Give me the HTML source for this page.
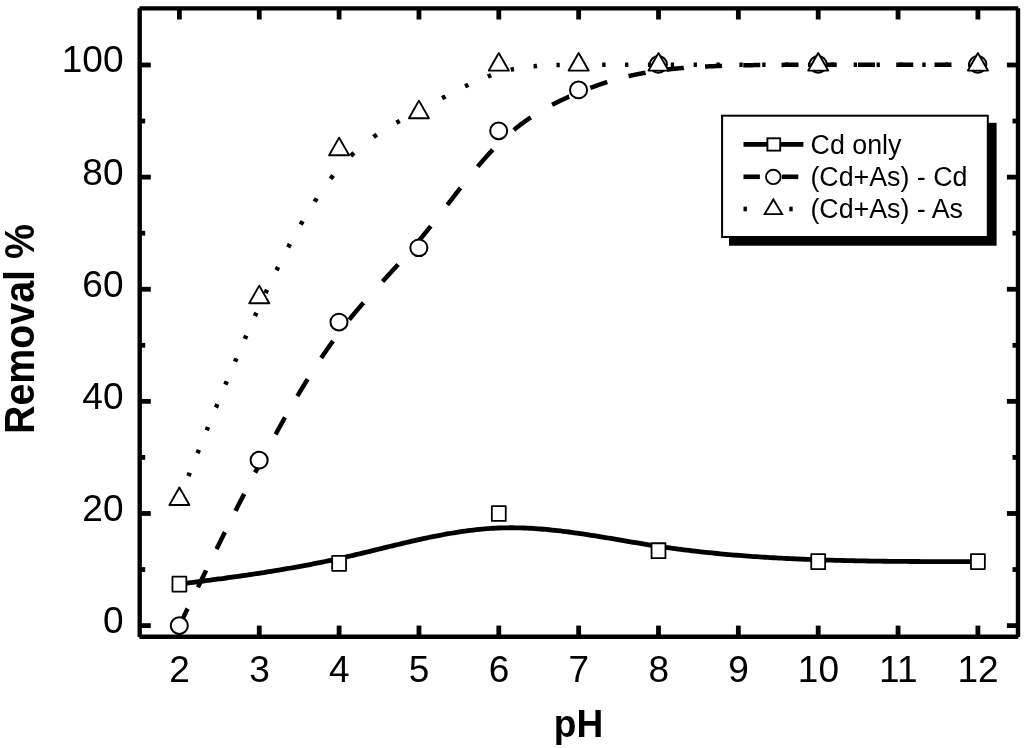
<!DOCTYPE html>
<html><head><meta charset="utf-8"><title>Removal % vs pH</title>
<style>
html,body{margin:0;padding:0;background:#fff;}
body{width:1024px;height:748px;overflow:hidden;}
svg{display:block;}
text{font-family:"Liberation Sans",Arial,sans-serif;fill:#000;}
</style></head><body>
<svg width="1024" height="748" viewBox="0 0 1024 748">
<rect width="1024" height="748" fill="#fff"/>
<!-- curves -->
<g fill="none" stroke="#000" stroke-linejoin="round">
<path d="M179.40 584.12 L179.40 584.12 L179.40 584.12 L179.40 584.12 L179.41 584.11 L179.42 584.11 L179.43 584.11 L179.45 584.11 L179.47 584.11 L179.50 584.10 L179.54 584.10 L179.59 584.09 L179.65 584.08 L179.72 584.07 L179.79 584.06 L179.89 584.05 L179.99 584.04 L180.11 584.02 L180.24 584.01 L180.39 583.99 L180.55 583.97 L180.73 583.94 L180.93 583.92 L181.15 583.89 L181.39 583.86 L181.65 583.82 L181.93 583.79 L182.23 583.75 L182.56 583.71 L182.91 583.66 L183.28 583.61 L183.68 583.56 L184.11 583.50 L184.57 583.44 L185.05 583.38 L185.56 583.32 L186.11 583.24 L186.68 583.17 L187.29 583.09 L187.93 583.01 L188.60 582.92 L189.31 582.83 L190.05 582.73 L190.83 582.63 L191.64 582.53 L192.50 582.41 L193.39 582.30 L194.32 582.18 L195.29 582.05 L196.31 581.92 L197.37 581.78 L198.47 581.64 L199.61 581.49 L200.80 581.34 L202.03 581.18 L203.31 581.01 L204.64 580.84 L206.02 580.66 L207.44 580.47 L208.92 580.28 L210.44 580.08 L212.00 579.88 L213.62 579.67 L215.28 579.45 L216.98 579.23 L218.72 578.99 L220.51 578.76 L222.34 578.51 L224.21 578.26 L226.12 578.00 L228.07 577.74 L230.05 577.46 L232.07 577.19 L234.13 576.90 L236.23 576.61 L238.36 576.31 L240.52 576.00 L242.72 575.68 L244.94 575.36 L247.20 575.03 L249.49 574.69 L251.81 574.35 L254.15 574.00 L256.53 573.64 L258.93 573.27 L261.35 572.90 L263.81 572.51 L266.28 572.12 L268.78 571.73 L271.30 571.32 L273.84 570.91 L276.41 570.48 L278.99 570.06 L281.59 569.62 L284.21 569.17 L286.85 568.72 L289.51 568.26 L292.18 567.79 L294.86 567.31 L297.56 566.83 L300.27 566.33 L302.99 565.83 L305.73 565.32 L308.47 564.80 L311.23 564.27 L313.99 563.73 L316.76 563.19 L319.54 562.63 L322.32 562.07 L325.11 561.50 L327.90 560.92 L330.70 560.33 L333.50 559.74 L336.30 559.13 L339.10 558.51 L341.90 557.89 L344.70 557.26 L347.51 556.62 L350.31 555.97 L353.11 555.32 L355.91 554.66 L358.71 553.99 L361.51 553.32 L364.32 552.65 L367.12 551.97 L369.92 551.30 L372.72 550.61 L375.52 549.93 L378.32 549.25 L381.13 548.56 L383.93 547.88 L386.73 547.20 L389.53 546.52 L392.33 545.84 L395.14 545.17 L397.94 544.49 L400.74 543.83 L403.54 543.16 L406.34 542.51 L409.14 541.86 L411.95 541.21 L414.75 540.57 L417.55 539.95 L420.35 539.33 L423.15 538.71 L425.95 538.11 L428.76 537.52 L431.56 536.94 L434.36 536.37 L437.16 535.82 L439.96 535.28 L442.76 534.75 L445.57 534.23 L448.37 533.73 L451.17 533.25 L453.97 532.78 L456.77 532.33 L459.58 531.90 L462.38 531.48 L465.18 531.08 L467.98 530.70 L470.78 530.35 L473.58 530.01 L476.39 529.69 L479.19 529.40 L481.99 529.13 L484.79 528.88 L487.59 528.65 L490.39 528.45 L493.20 528.27 L496.00 528.12 L498.80 528.00 L501.60 527.90 L504.40 527.83 L507.21 527.78 L510.01 527.76 L512.81 527.77 L515.61 527.79 L518.41 527.84 L521.21 527.92 L524.02 528.01 L526.82 528.13 L529.62 528.26 L532.42 528.42 L535.22 528.60 L538.02 528.79 L540.83 529.00 L543.63 529.24 L546.43 529.48 L549.23 529.75 L552.03 530.03 L554.84 530.32 L557.64 530.63 L560.44 530.96 L563.24 531.29 L566.04 531.64 L568.84 532.00 L571.65 532.38 L574.45 532.76 L577.25 533.16 L580.05 533.56 L582.85 533.97 L585.65 534.40 L588.46 534.83 L591.26 535.26 L594.06 535.71 L596.86 536.15 L599.66 536.61 L602.46 537.07 L605.27 537.53 L608.07 538.00 L610.87 538.47 L613.67 538.94 L616.47 539.42 L619.28 539.89 L622.08 540.37 L624.88 540.84 L627.68 541.32 L630.48 541.79 L633.28 542.26 L636.09 542.73 L638.89 543.20 L641.69 543.66 L644.49 544.11 L647.29 544.57 L650.09 545.01 L652.90 545.45 L655.70 545.89 L658.50 546.31 L661.30 546.73 L664.10 547.14 L666.91 547.54 L669.71 547.94 L672.51 548.32 L675.31 548.70 L678.11 549.07 L680.91 549.44 L683.72 549.79 L686.52 550.14 L689.32 550.48 L692.12 550.82 L694.92 551.14 L697.72 551.46 L700.53 551.78 L703.33 552.08 L706.13 552.38 L708.93 552.67 L711.73 552.96 L714.54 553.24 L717.34 553.51 L720.14 553.78 L722.94 554.04 L725.74 554.30 L728.54 554.54 L731.35 554.79 L734.15 555.02 L736.95 555.25 L739.75 555.48 L742.55 555.70 L745.35 555.91 L748.16 556.12 L750.96 556.32 L753.76 556.52 L756.56 556.71 L759.36 556.90 L762.16 557.08 L764.97 557.25 L767.77 557.43 L770.57 557.59 L773.37 557.75 L776.17 557.91 L778.98 558.07 L781.78 558.21 L784.58 558.36 L787.38 558.50 L790.18 558.63 L792.98 558.76 L795.79 558.89 L798.59 559.01 L801.39 559.13 L804.19 559.25 L806.99 559.36 L809.79 559.47 L812.60 559.57 L815.40 559.67 L818.20 559.77 L821.00 559.86 L823.80 559.95 L826.60 560.04 L829.40 560.12 L832.19 560.20 L834.98 560.28 L837.76 560.36 L840.54 560.43 L843.31 560.50 L846.07 560.56 L848.83 560.63 L851.57 560.69 L854.31 560.75 L857.03 560.80 L859.74 560.85 L862.44 560.90 L865.12 560.95 L867.79 561.00 L870.45 561.04 L873.09 561.08 L875.71 561.12 L878.31 561.16 L880.89 561.19 L883.46 561.23 L886.00 561.26 L888.52 561.29 L891.02 561.32 L893.49 561.34 L895.95 561.36 L898.37 561.39 L900.77 561.41 L903.15 561.43 L905.49 561.44 L907.81 561.46 L910.10 561.48 L912.36 561.49 L914.58 561.50 L916.78 561.51 L918.94 561.52 L921.07 561.53 L923.17 561.54 L925.23 561.55 L927.25 561.55 L929.23 561.56 L931.18 561.56 L933.09 561.57 L934.96 561.57 L936.79 561.57 L938.58 561.57 L940.32 561.58 L942.02 561.58 L943.68 561.58 L945.30 561.58 L946.86 561.58 L948.38 561.58 L949.86 561.58 L951.28 561.58 L952.66 561.58 L953.99 561.58 L955.27 561.58 L956.50 561.58 L957.69 561.58 L958.83 561.58 L959.93 561.58 L960.99 561.58 L962.01 561.58 L962.98 561.58 L963.91 561.58 L964.80 561.58 L965.66 561.58 L966.47 561.58 L967.25 561.58 L967.99 561.58 L968.70 561.58 L969.37 561.58 L970.01 561.58 L970.62 561.58 L971.19 561.58 L971.74 561.58 L972.25 561.58 L972.73 561.58 L973.19 561.58 L973.62 561.58 L974.02 561.58 L974.39 561.58 L974.74 561.58 L975.07 561.58 L975.37 561.58 L975.65 561.58 L975.91 561.58 L976.15 561.58 L976.37 561.58 L976.57 561.58 L976.75 561.58 L976.91 561.58 L977.06 561.58 L977.19 561.58 L977.31 561.58 L977.41 561.58 L977.51 561.58 L977.58 561.58 L977.65 561.58 L977.71 561.58 L977.76 561.58 L977.80 561.58 L977.83 561.58 L977.85 561.58 L977.87 561.58 L977.88 561.58 L977.89 561.58 L977.90 561.58 L977.90 561.58 L977.90 561.58 L977.90 561.58" stroke-width="4.8"/>
<path d="M179.40 625.60 L179.40 625.60 L179.40 625.60 L179.40 625.60 L179.40 625.60 L179.40 625.60 L179.40 625.60 L179.40 625.60 L179.40 625.60 L179.40 625.60 L179.40 625.60 L179.40 625.60 L179.40 625.60 L179.40 625.60 L179.40 625.60 L179.40 625.60 L179.40 625.60 L179.40 625.59 L179.40 625.59 L179.40 625.59 L179.40 625.59 L179.40 625.59 L179.41 625.59 L179.41 625.59 L179.41 625.59 L179.41 625.58 L179.41 625.58 L179.41 625.58 L179.41 625.58 L179.41 625.58 L179.41 625.57 L179.41 625.57 L179.42 625.57 L179.42 625.56 L179.42 625.56 L179.42 625.56 L179.42 625.55 L179.42 625.55 L179.43 625.54 L179.43 625.54 L179.43 625.53 L179.43 625.53 L179.44 625.52 L179.44 625.52 L179.44 625.51 L179.44 625.51 L179.45 625.50 L179.45 625.49 L179.45 625.49 L179.46 625.48 L179.46 625.47 L179.47 625.46 L179.47 625.46 L179.47 625.45 L179.48 625.44 L179.48 625.43 L179.49 625.42 L179.49 625.41 L179.50 625.40 L179.50 625.39 L179.51 625.38 L179.51 625.37 L179.52 625.36 L179.52 625.34 L179.53 625.33 L179.54 625.32 L179.54 625.31 L179.55 625.29 L179.55 625.28 L179.56 625.26 L179.57 625.25 L179.58 625.23 L179.58 625.22 L179.59 625.20 L179.60 625.19 L179.61 625.17 L179.62 625.15 L179.63 625.13 L179.63 625.12 L179.64 625.10 L179.65 625.08 L179.66 625.06 L179.67 625.04 L179.68 625.02 L179.69 624.99 L179.70 624.97 L179.71 624.95 L179.72 624.93 L179.74 624.90 L179.75 624.88 L179.76 624.86 L179.77 624.83 L179.78 624.81 L179.80 624.78 L179.81 624.75 L179.82 624.72 L179.84 624.70 L179.85 624.67 L179.86 624.64 L179.88 624.61 L179.89 624.58 L179.91 624.55 L179.92 624.52 L179.94 624.48 L179.95 624.45 L179.97 624.42 L179.99 624.38 L180.00 624.35 L180.02 624.31 L180.04 624.28 L180.06 624.24 L180.07 624.20 L180.09 624.17 L180.11 624.13 L180.13 624.09 L180.15 624.05 L180.17 624.01 L180.19 623.97 L180.21 623.92 L180.23 623.88 L180.25 623.84 L180.27 623.79 L180.30 623.75 L180.32 623.70 L180.34 623.65 L180.36 623.61 L180.39 623.56 L180.41 623.51 L180.43 623.46 L180.46 623.41 L180.48 623.36 L180.51 623.31 L180.53 623.25 L180.56 623.20 L180.59 623.14 L180.61 623.09 L180.64 623.03 L180.67 622.98 L180.70 622.92 L180.72 622.86 L180.75 622.80 L180.78 622.74 L180.81 622.68 L180.84 622.61 L180.87 622.55 L180.90 622.49 L180.93 622.42 L180.97 622.36 L181.00 622.29 L181.03 622.22 L181.06 622.15 L181.10 622.09 L181.13 622.01 L181.17 621.94 L181.20 621.87 L181.24 621.80 L181.27 621.72 L181.31 621.65 L181.34 621.57 L181.38 621.50 L181.42 621.42 L181.46 621.34 L181.50 621.26 L181.53 621.18 L181.57 621.10 L181.61 621.01 L181.65 620.93 L181.70 620.85 L181.74 620.76 L181.78 620.67 L181.82 620.58 L181.86 620.50 L181.91 620.41 L181.95 620.31 L182.00 620.22 L182.04 620.13 L182.09 620.03 L182.13 619.94 L182.18 619.84 L182.23 619.75 L182.27 619.65 L182.32 619.55 L182.37 619.45 L182.42 619.34 L182.47 619.24 L182.52 619.14 L182.57 619.03 L182.62 618.92 L182.68 618.82 L182.73 618.71 L182.78 618.60 L182.83 618.49 L182.89 618.37 L182.94 618.26 L183.00 618.15 L183.05 618.03 L183.11 617.91 L183.17 617.80 L183.23 617.68 L183.28 617.56 L183.34 617.43 L183.40 617.31 L183.46 617.19 L183.52 617.06 L183.58 616.93 L183.65 616.81 L183.71 616.68 L183.77 616.55 L183.84 616.41 L183.90 616.28 L183.96 616.15 L184.03 616.01 L184.10 615.87 L184.16 615.73 L184.23 615.60 L184.30 615.45 L184.37 615.31 L184.44 615.17 L184.51 615.02 L184.58 614.88 L184.65 614.73 L184.72 614.58 L184.79 614.43 L184.87 614.28 L184.94 614.13 L185.01 613.97 L185.09 613.82 L185.17 613.66 L185.24 613.50 L185.32 613.34 L185.40 613.18 L185.48 613.02 L185.55 612.85 L185.63 612.69 L185.72 612.52 L185.80 612.35 L185.88 612.18 L185.96 612.01 L186.04 611.84 L186.13 611.66 L186.21 611.49 L186.30 611.31 L186.39 611.13 L186.47 610.95 L186.56 610.77 L186.65 610.59 L186.74 610.40 L186.83 610.22 L186.92 610.03 L187.01 609.84 L187.10 609.65 L187.19 609.46 L187.29 609.26 L187.38 609.07 L187.48 608.87 L187.57 608.67 L187.61 608.60 M197.87 587.36 L197.89 587.32 L198.05 586.98 L198.21 586.64 L198.38 586.30 L198.54 585.96 L198.71 585.62 L198.88 585.27 L199.04 584.93 L199.21 584.58 L199.38 584.23 L199.55 583.88 L199.72 583.53 L199.89 583.18 L200.06 582.82 L200.24 582.47 L200.41 582.11 L200.58 581.75 L200.76 581.39 L200.93 581.03 L201.11 580.66 L201.29 580.30 L201.47 579.93 L201.64 579.56 L201.82 579.19 L202.00 578.82 L202.18 578.45 L202.37 578.07 L202.55 577.70 L202.73 577.32 L202.91 576.95 L203.10 576.57 L203.28 576.19 L203.47 575.80 L203.65 575.42 L203.84 575.04 L204.03 574.65 L204.22 574.26 L204.41 573.87 L204.60 573.48 L204.79 573.09 L204.98 572.70 L205.17 572.30 L205.36 571.91 L205.55 571.51 L205.75 571.11 L205.94 570.72 L206.11 570.36 M216.51 549.12 L216.65 548.84 L216.87 548.38 L217.10 547.92 L217.32 547.47 L217.55 547.01 L217.77 546.55 L218.00 546.09 L218.23 545.63 L218.45 545.17 L218.68 544.70 L218.91 544.24 L219.14 543.78 L219.37 543.31 L219.60 542.84 L219.83 542.38 L220.06 541.91 L220.29 541.44 L220.52 540.97 L220.76 540.50 L220.99 540.03 L221.22 539.56 L221.46 539.09 L221.69 538.62 L221.92 538.14 L222.16 537.67 L222.39 537.19 L222.63 536.72 L222.87 536.24 L223.10 535.76 L223.34 535.29 L223.58 534.81 L223.81 534.33 L224.05 533.85 L224.29 533.37 L224.53 532.88 L224.77 532.40 L224.91 532.12 M235.54 510.88 L235.65 510.65 L235.91 510.14 L236.16 509.64 L236.42 509.13 L236.67 508.63 L236.93 508.12 L237.18 507.61 L237.44 507.11 L237.70 506.60 L237.95 506.10 L238.21 505.59 L238.47 505.08 L238.72 504.57 L238.98 504.06 L239.24 503.56 L239.50 503.05 L239.75 502.54 L240.01 502.03 L240.27 501.52 L240.53 501.01 L240.79 500.50 L241.05 499.99 L241.31 499.48 L241.57 498.97 L241.82 498.46 L242.08 497.95 L242.34 497.44 L242.60 496.93 L242.87 496.42 L243.13 495.91 L243.39 495.40 L243.65 494.89 L243.91 494.38 L244.16 493.88 M255.12 472.64 L255.26 472.37 L255.53 471.86 L255.79 471.35 L256.06 470.85 L256.32 470.34 L256.59 469.83 L256.85 469.32 L257.12 468.81 L257.39 468.30 L257.65 467.80 L257.92 467.29 L258.19 466.78 L258.45 466.27 L258.72 465.77 L258.98 465.26 L259.25 464.75 L259.52 464.25 L259.78 463.74 L260.05 463.24 L260.31 462.73 L260.58 462.23 L260.85 461.72 L261.11 461.22 L261.38 460.72 L261.65 460.21 L261.91 459.71 L262.18 459.21 L262.44 458.71 L262.71 458.20 L262.98 457.70 L263.24 457.20 L263.51 456.70 L263.77 456.20 L264.04 455.70 L264.07 455.64 M275.54 434.40 L275.75 434.02 L276.02 433.54 L276.28 433.05 L276.55 432.57 L276.82 432.09 L277.08 431.60 L277.35 431.12 L277.62 430.64 L277.88 430.16 L278.15 429.68 L278.41 429.19 L278.68 428.71 L278.95 428.23 L279.21 427.75 L279.48 427.27 L279.74 426.80 L280.01 426.32 L280.28 425.84 L280.54 425.36 L280.81 424.88 L281.08 424.41 L281.34 423.93 L281.61 423.46 L281.87 422.98 L282.14 422.50 L282.41 422.03 L282.67 421.56 L282.94 421.08 L283.20 420.61 L283.47 420.14 L283.74 419.66 L284.00 419.19 L284.27 418.72 L284.54 418.25 L284.80 417.78 L285.02 417.40 M297.31 396.16 L297.31 396.16 L297.58 395.71 L297.84 395.26 L298.11 394.81 L298.38 394.37 L298.64 393.92 L298.91 393.47 L299.18 393.03 L299.44 392.58 L299.71 392.14 L299.97 391.69 L300.24 391.25 L300.51 390.81 L300.77 390.36 L301.04 389.92 L301.30 389.48 L301.57 389.04 L301.84 388.60 L302.10 388.16 L302.37 387.72 L302.64 387.28 L302.90 386.84 L303.17 386.40 L303.43 385.97 L303.70 385.53 L303.97 385.09 L304.23 384.66 L304.50 384.22 L304.76 383.79 L305.03 383.35 L305.30 382.92 L305.56 382.49 L305.83 382.06 L306.10 381.62 L306.36 381.19 L306.63 380.76 L306.89 380.33 L307.16 379.90 L307.43 379.47 L307.62 379.16 M321.28 357.92 L321.53 357.54 L321.80 357.14 L322.07 356.74 L322.33 356.35 L322.60 355.95 L322.86 355.56 L323.13 355.16 L323.40 354.77 L323.66 354.38 L323.93 353.98 L324.19 353.59 L324.46 353.20 L324.73 352.81 L324.99 352.42 L325.26 352.03 L325.53 351.64 L325.79 351.25 L326.06 350.86 L326.32 350.48 L326.59 350.09 L326.86 349.70 L327.12 349.32 L327.39 348.94 L327.65 348.55 L327.92 348.17 L328.19 347.79 L328.45 347.40 L328.72 347.02 L328.99 346.64 L329.25 346.26 L329.52 345.88 L329.78 345.51 L330.05 345.13 L330.32 344.75 L330.58 344.37 L330.85 344.00 L331.12 343.62 L331.38 343.25 L331.65 342.88 L331.91 342.50 L332.18 342.13 L332.45 341.76 L332.71 341.39 L332.98 341.02 L333.05 340.92 M349.24 319.68 L349.48 319.38 L349.75 319.05 L350.01 318.72 L350.28 318.39 L350.55 318.06 L350.81 317.74 L351.08 317.41 L351.34 317.08 L351.61 316.76 L351.88 316.43 L352.14 316.11 L352.41 315.79 L352.67 315.46 L352.94 315.14 L353.21 314.82 L353.47 314.50 L353.74 314.17 L354.01 313.85 L354.27 313.53 L354.54 313.21 L354.80 312.89 L355.07 312.58 L355.34 312.26 L355.60 311.94 L355.87 311.62 L356.13 311.31 L356.40 310.99 L356.67 310.67 L356.93 310.36 L357.20 310.04 L357.47 309.73 L357.73 309.41 L358.00 309.10 L358.26 308.79 L358.53 308.47 L358.80 308.16 L359.06 307.85 L359.33 307.54 L359.59 307.22 L359.86 306.91 L360.13 306.60 L360.39 306.29 L360.66 305.98 L360.93 305.67 L361.19 305.37 L361.46 305.06 L361.72 304.75 L361.99 304.44 L362.26 304.13 L362.52 303.83 L362.79 303.52 L363.06 303.21 L363.32 302.91 L363.52 302.68 M382.59 281.44 L382.75 281.26 L383.02 280.97 L383.28 280.68 L383.55 280.39 L383.82 280.10 L384.08 279.81 L384.35 279.52 L384.61 279.23 L384.88 278.94 L385.15 278.65 L385.41 278.36 L385.68 278.07 L385.95 277.78 L386.21 277.49 L386.48 277.20 L386.74 276.91 L387.01 276.62 L387.28 276.33 L387.54 276.03 L387.81 275.74 L388.07 275.45 L388.34 275.16 L388.61 274.87 L388.87 274.58 L389.14 274.29 L389.41 274.00 L389.67 273.71 L389.94 273.42 L390.20 273.13 L390.47 272.84 L390.74 272.55 L391.00 272.26 L391.27 271.97 L391.53 271.68 L391.80 271.39 L392.07 271.10 L392.33 270.81 L392.60 270.51 L392.87 270.22 L393.13 269.93 L393.40 269.64 L393.66 269.35 L393.93 269.06 L394.20 268.77 L394.46 268.48 L394.73 268.18 L394.99 267.89 L395.26 267.60 L395.53 267.31 L395.79 267.01 L396.06 266.72 L396.33 266.43 L396.59 266.14 L396.86 265.84 L397.12 265.55 L397.39 265.26 L397.66 264.97 L397.92 264.67 L398.13 264.44 M416.81 243.20 L416.82 243.19 L417.09 242.87 L417.35 242.56 L417.62 242.24 L417.89 241.93 L418.15 241.61 L418.42 241.29 L418.68 240.97 L418.95 240.65 L419.22 240.34 L419.48 240.02 L419.75 239.70 L420.01 239.38 L420.28 239.06 L420.55 238.73 L420.81 238.41 L421.08 238.09 L421.35 237.77 L421.61 237.45 L421.88 237.12 L422.14 236.80 L422.41 236.47 L422.68 236.15 L422.94 235.82 L423.21 235.50 L423.47 235.17 L423.74 234.85 L424.01 234.52 L424.27 234.19 L424.54 233.87 L424.81 233.54 L425.07 233.21 L425.34 232.88 L425.60 232.55 L425.87 232.22 L426.14 231.89 L426.40 231.56 L426.67 231.23 L426.94 230.90 L427.20 230.57 L427.47 230.24 L427.73 229.91 L428.00 229.58 L428.27 229.24 L428.53 228.91 L428.80 228.58 L429.06 228.25 L429.33 227.91 L429.60 227.58 L429.86 227.24 L430.13 226.91 L430.40 226.58 L430.66 226.24 L430.69 226.20 M447.27 204.96 L447.43 204.75 L447.70 204.41 L447.96 204.06 L448.23 203.72 L448.49 203.37 L448.76 203.03 L449.03 202.69 L449.29 202.34 L449.56 202.00 L449.83 201.65 L450.09 201.31 L450.36 200.97 L450.62 200.62 L450.89 200.28 L451.16 199.93 L451.42 199.59 L451.69 199.25 L451.95 198.90 L452.22 198.56 L452.49 198.22 L452.75 197.87 L453.02 197.53 L453.29 197.19 L453.55 196.84 L453.82 196.50 L454.08 196.16 L454.35 195.81 L454.62 195.47 L454.88 195.13 L455.15 194.79 L455.41 194.44 L455.68 194.10 L455.95 193.76 L456.21 193.42 L456.48 193.08 L456.75 192.74 L457.01 192.39 L457.28 192.05 L457.54 191.71 L457.81 191.37 L458.08 191.03 L458.34 190.69 L458.61 190.35 L458.88 190.01 L459.14 189.67 L459.41 189.33 L459.67 188.99 L459.94 188.65 L460.21 188.31 L460.47 187.97 L460.48 187.96 M477.66 166.72 L477.77 166.58 L478.04 166.27 L478.31 165.95 L478.57 165.64 L478.84 165.32 L479.10 165.01 L479.37 164.69 L479.64 164.38 L479.90 164.07 L480.17 163.76 L480.43 163.45 L480.70 163.14 L480.97 162.83 L481.23 162.52 L481.50 162.21 L481.77 161.90 L482.03 161.59 L482.30 161.29 L482.56 160.98 L482.83 160.67 L483.10 160.37 L483.36 160.06 L483.63 159.76 L483.89 159.45 L484.16 159.15 L484.43 158.85 L484.69 158.55 L484.96 158.25 L485.23 157.95 L485.49 157.64 L485.76 157.35 L486.02 157.05 L486.29 156.75 L486.56 156.45 L486.82 156.15 L487.09 155.86 L487.35 155.56 L487.62 155.27 L487.89 154.97 L488.15 154.68 L488.42 154.39 L488.69 154.09 L488.95 153.80 L489.22 153.51 L489.48 153.22 L489.75 152.93 L490.02 152.64 L490.28 152.36 L490.55 152.07 L490.81 151.78 L491.08 151.50 L491.35 151.21 L491.61 150.93 L491.88 150.64 L492.15 150.36 L492.41 150.08 L492.68 149.79 L492.75 149.72 M513.84 129.95 L513.97 129.84 L514.24 129.62 L514.50 129.41 L514.77 129.19 L515.04 128.97 L515.30 128.76 L515.57 128.54 L515.83 128.33 L516.10 128.12 L516.37 127.90 L516.63 127.69 L516.90 127.48 L517.17 127.27 L517.43 127.06 L517.70 126.85 L517.96 126.64 L518.23 126.44 L518.50 126.23 L518.76 126.02 L519.03 125.82 L519.29 125.61 L519.56 125.41 L519.83 125.20 L520.09 125.00 L520.36 124.80 L520.63 124.60 L520.89 124.40 L521.16 124.20 L521.42 124.00 L521.69 123.80 L521.96 123.60 L522.22 123.40 L522.49 123.20 L522.75 123.01 L523.02 122.81 L523.29 122.62 L523.55 122.42 L523.82 122.23 L524.09 122.03 L524.35 121.84 L524.62 121.65 L524.88 121.46 L525.15 121.27 L525.42 121.08 L525.68 120.89 L525.95 120.70 L526.22 120.51 L526.48 120.32 L526.75 120.14 L527.01 119.95 L527.28 119.76 L527.55 119.58 L527.81 119.40 L528.08 119.21 L528.34 119.03 L528.61 118.85 L528.88 118.66 L529.14 118.48 L529.41 118.30 L529.68 118.12 L529.94 117.94 L530.21 117.76 L530.47 117.58 L530.74 117.40 L530.84 117.33 M552.08 104.81 L552.30 104.70 L552.57 104.56 L552.83 104.42 L553.10 104.29 L553.36 104.15 L553.63 104.01 L553.90 103.88 L554.16 103.74 L554.43 103.60 L554.70 103.47 L554.96 103.33 L555.23 103.20 L555.49 103.07 L555.76 102.93 L556.03 102.80 L556.29 102.67 L556.56 102.53 L556.82 102.40 L557.09 102.27 L557.36 102.14 L557.62 102.01 L557.89 101.88 L558.16 101.75 L558.42 101.62 L558.69 101.49 L558.95 101.36 L559.22 101.23 L559.49 101.10 L559.75 100.97 L560.02 100.84 L560.28 100.72 L560.55 100.59 L560.82 100.46 L561.08 100.34 L561.35 100.21 L561.62 100.08 L561.88 99.96 L562.15 99.83 L562.41 99.71 L562.68 99.58 L562.95 99.46 L563.21 99.33 L563.48 99.21 L563.74 99.09 L564.01 98.96 L564.28 98.84 L564.54 98.72 L564.81 98.59 L565.08 98.47 L565.34 98.35 L565.61 98.23 L565.87 98.11 L566.14 97.99 L566.41 97.87 L566.67 97.75 L566.94 97.63 L567.20 97.51 L567.47 97.39 L567.74 97.27 L568.00 97.15 L568.27 97.03 L568.54 96.91 L568.80 96.79 L569.07 96.67 L569.08 96.67 M590.32 87.94 L590.40 87.91 L590.67 87.81 L590.94 87.71 L591.21 87.61 L591.48 87.51 L591.75 87.41 L592.02 87.31 L592.29 87.20 L592.56 87.10 L592.83 87.00 L593.10 86.90 L593.37 86.80 L593.64 86.70 L593.91 86.60 L594.18 86.50 L594.46 86.41 L594.73 86.31 L595.00 86.21 L595.27 86.11 L595.54 86.01 L595.81 85.91 L596.09 85.81 L596.36 85.72 L596.63 85.62 L596.90 85.52 L597.18 85.42 L597.45 85.33 L597.72 85.23 L598.00 85.13 L598.27 85.04 L598.55 84.94 L598.82 84.84 L599.10 84.75 L599.37 84.65 L599.64 84.56 L599.92 84.46 L600.20 84.37 L600.47 84.27 L600.75 84.18 L601.02 84.08 L601.30 83.99 L601.58 83.90 L601.85 83.80 L602.13 83.71 L602.41 83.62 L602.69 83.52 L602.96 83.43 L603.24 83.34 L603.52 83.24 L603.80 83.15 L604.08 83.06 L604.36 82.97 L604.64 82.88 L604.92 82.78 L605.20 82.69 L605.48 82.60 L605.76 82.51 L606.04 82.42 L606.32 82.33 L606.60 82.24 L606.89 82.15 L607.17 82.06 L607.32 82.01 M628.56 76.15 L628.81 76.10 L629.12 76.02 L629.43 75.95 L629.75 75.88 L630.06 75.81 L630.38 75.73 L630.70 75.66 L631.01 75.59 L631.33 75.52 L631.65 75.45 L631.96 75.38 L632.28 75.30 L632.60 75.23 L632.92 75.16 L633.24 75.09 L633.56 75.02 L633.89 74.95 L634.21 74.88 L634.53 74.82 L634.85 74.75 L635.18 74.68 L635.50 74.61 L635.83 74.54 L636.15 74.47 L636.48 74.41 L636.81 74.34 L637.13 74.27 L637.46 74.20 L637.79 74.14 L638.12 74.07 L638.45 74.00 L638.78 73.94 L639.11 73.87 L639.44 73.81 L639.77 73.74 L640.11 73.68 L640.44 73.61 L640.77 73.55 L641.11 73.48 L641.44 73.42 L641.78 73.36 L642.12 73.29 L642.46 73.23 L642.79 73.17 L643.13 73.10 L643.47 73.04 L643.81 72.98 L644.15 72.92 L644.49 72.86 L644.84 72.79 L645.18 72.73 L645.52 72.67 L645.56 72.66 M666.80 69.57 L667.08 69.54 L667.47 69.49 L667.86 69.45 L668.25 69.41 L668.64 69.36 L669.04 69.32 L669.43 69.27 L669.82 69.23 L670.22 69.19 L670.61 69.14 L671.01 69.10 L671.41 69.06 L671.81 69.02 L672.21 68.98 L672.61 68.93 L673.01 68.89 L673.41 68.85 L673.82 68.81 L674.22 68.77 L674.62 68.73 L675.03 68.69 L675.44 68.65 L675.84 68.61 L676.25 68.57 L676.66 68.54 L677.07 68.50 L677.48 68.46 L677.90 68.42 L678.31 68.38 L678.72 68.35 L679.14 68.31 L679.55 68.27 L679.97 68.24 L680.38 68.20 L680.80 68.16 L681.22 68.13 L681.64 68.09 L682.06 68.06 L682.48 68.02 L682.90 67.99 L683.32 67.95 L683.75 67.92 L683.80 67.91 M705.04 66.55 L705.41 66.53 L705.87 66.51 L706.34 66.48 L706.80 66.46 L707.26 66.44 L707.72 66.42 L708.18 66.39 L708.65 66.37 L709.11 66.35 L709.58 66.33 L710.04 66.31 L710.51 66.29 L710.97 66.27 L711.44 66.25 L711.91 66.23 L712.38 66.21 L712.85 66.19 L713.32 66.17 L713.79 66.15 L714.26 66.13 L714.73 66.11 L715.20 66.09 L715.68 66.07 L716.15 66.05 L716.62 66.04 L717.10 66.02 L717.57 66.00 L718.05 65.98 L718.53 65.96 L719.00 65.95 L719.48 65.93 L719.96 65.91 L720.44 65.90 L720.92 65.88 L721.40 65.86 L721.88 65.85 L722.04 65.84 M743.28 65.29 L743.52 65.29 L744.02 65.28 L744.52 65.27 L745.03 65.26 L745.53 65.25 L746.03 65.24 L746.54 65.23 L747.04 65.22 L747.55 65.21 L748.05 65.20 L748.56 65.20 L749.07 65.19 L749.57 65.18 L750.08 65.17 L750.59 65.16 L751.10 65.16 L751.60 65.15 L752.11 65.14 L752.62 65.13 L753.13 65.13 L753.64 65.12 L754.15 65.11 L754.66 65.11 L755.17 65.10 L755.68 65.09 L756.19 65.09 L756.71 65.08 L757.22 65.07 L757.73 65.07 L758.24 65.06 L758.76 65.06 L759.27 65.05 L759.79 65.04 L760.28 65.04 M781.52 64.88 L781.63 64.88 L782.16 64.88 L782.68 64.88 L783.21 64.88 L783.73 64.87 L784.26 64.87 L784.79 64.87 L785.31 64.87 L785.84 64.87 L786.37 64.87 L786.89 64.86 L787.42 64.86 L787.95 64.86 L788.48 64.86 L789.00 64.86 L789.53 64.86 L790.06 64.85 L790.59 64.85 L791.12 64.85 L791.64 64.85 L792.17 64.85 L792.70 64.85 L793.23 64.85 L793.76 64.85 L794.29 64.85 L794.82 64.85 L795.35 64.84 L795.88 64.84 L796.41 64.84 L796.94 64.84 L797.47 64.84 L798.00 64.84 L798.52 64.84 M819.76 64.83 L819.80 64.83 L820.33 64.83 L820.86 64.83 L821.39 64.83 L821.93 64.83 L822.46 64.83 L822.99 64.83 L823.52 64.83 L824.05 64.83 L824.59 64.83 L825.12 64.83 L825.65 64.83 L826.18 64.83 L826.71 64.83 L827.24 64.83 L827.78 64.83 L828.31 64.83 L828.84 64.83 L829.37 64.83 L829.90 64.83 L830.43 64.83 L830.96 64.83 L831.49 64.83 L832.02 64.83 L832.55 64.83 L833.08 64.83 L833.61 64.83 L834.14 64.83 L834.67 64.83 L835.20 64.83 L835.73 64.83 L836.26 64.83 L836.76 64.83 M858.00 64.83 L858.22 64.83 L858.74 64.83 L859.25 64.83 L859.77 64.83 L860.28 64.83 L860.80 64.83 L861.31 64.83 L861.82 64.83 L862.33 64.83 L862.84 64.83 L863.35 64.83 L863.86 64.83 L864.37 64.83 L864.88 64.83 L865.39 64.83 L865.90 64.83 L866.41 64.83 L866.91 64.83 L867.42 64.83 L867.93 64.83 L868.43 64.83 L868.94 64.83 L869.44 64.83 L869.94 64.83 L870.45 64.83 L870.95 64.83 L871.45 64.83 L871.95 64.83 L872.45 64.83 L872.95 64.83 L873.45 64.83 L873.95 64.83 L874.45 64.83 L874.95 64.83 L875.00 64.83 M896.24 64.83 L896.58 64.83 L897.04 64.83 L897.50 64.83 L897.96 64.83 L898.42 64.83 L898.88 64.83 L899.34 64.83 L899.79 64.83 L900.25 64.83 L900.70 64.83 L901.15 64.83 L901.61 64.83 L902.06 64.83 L902.51 64.83 L902.96 64.83 L903.41 64.83 L903.85 64.83 L904.30 64.83 L904.75 64.83 L905.19 64.83 L905.63 64.83 L906.08 64.83 L906.52 64.83 L906.96 64.83 L907.40 64.83 L907.83 64.83 L908.27 64.83 L908.71 64.83 L909.14 64.83 L909.58 64.83 L910.01 64.83 L910.44 64.83 L910.87 64.83 L911.30 64.83 L911.73 64.83 L912.16 64.83 L912.58 64.83 L913.01 64.83 L913.24 64.83 M934.48 64.83 L934.83 64.83 L935.18 64.83 L935.53 64.83 L935.88 64.83 L936.23 64.83 L936.57 64.83 L936.92 64.83 L937.26 64.83 L937.60 64.83 L937.94 64.83 L938.28 64.83 L938.61 64.83 L938.95 64.83 L939.28 64.83 L939.61 64.83 L939.94 64.83 L940.27 64.83 L940.60 64.83 L940.92 64.83 L941.25 64.83 L941.57 64.83 L941.89 64.83 L942.21 64.83 L942.53 64.83 L942.84 64.83 L943.16 64.83 L943.47 64.83 L943.78 64.83 L944.09 64.83 L944.40 64.83 L944.70 64.83 L945.01 64.83 L945.31 64.83 L945.61 64.83 L945.91 64.83 L946.21 64.83 L946.51 64.83 L946.80 64.83 L947.09 64.83 L947.39 64.83 L947.68 64.83 L947.96 64.83 L948.25 64.83 L948.53 64.83 L948.82 64.83 L949.10 64.83 L949.38 64.83 L949.65 64.83 L949.93 64.83 L950.20 64.83 L950.48 64.83 L950.75 64.83 L951.02 64.83 L951.28 64.83 L951.48 64.83 M972.72 64.83 L972.80 64.83 L972.88 64.83 L972.97 64.83 L973.06 64.83 L973.14 64.83 L973.23 64.83 L973.31 64.83 L973.39 64.83 L973.47 64.83 L973.55 64.83 L973.63 64.83 L973.71 64.83 L973.79 64.83 L973.86 64.83 L973.94 64.83 L974.01 64.83 L974.09 64.83 L974.16 64.83 L974.23 64.83 L974.30 64.83 L974.37 64.83 L974.44 64.83 L974.51 64.83 L974.57 64.83 L974.64 64.83 L974.70 64.83 L974.77 64.83 L974.83 64.83 L974.89 64.83 L974.96 64.83 L975.02 64.83 L975.08 64.83 L975.14 64.83 L975.19 64.83 L975.25 64.83 L975.31 64.83 L975.37 64.83 L975.42 64.83 L975.47 64.83 L975.53 64.83 L975.58 64.83 L975.63 64.83 L975.68 64.83 L975.73 64.83 L975.78 64.83 L975.83 64.83 L975.88 64.83 L975.93 64.83 L975.97 64.83 L976.02 64.83 L976.07 64.83 L976.11 64.83 L976.15 64.83 L976.20 64.83 L976.24 64.83 L976.28 64.83 L976.32 64.83 L976.36 64.83 L976.40 64.83 L976.44 64.83 L976.48 64.83 L976.52 64.83 L976.55 64.83 L976.59 64.83 L976.62 64.83 L976.66 64.83 L976.69 64.83 L976.73 64.83 L976.76 64.83 L976.79 64.83 L976.82 64.83 L976.85 64.83 L976.88 64.83 L976.91 64.83 L976.94 64.83 L976.97 64.83 L977.00 64.83 L977.03 64.83 L977.05 64.83 L977.08 64.83 L977.11 64.83 L977.13 64.83 L977.16 64.83 L977.18 64.83 L977.21 64.83 L977.23 64.83 L977.25 64.83 L977.27 64.83 L977.29 64.83 L977.32 64.83 L977.34 64.83 L977.36 64.83 L977.38 64.83 L977.40 64.83 L977.41 64.83 L977.43 64.83 L977.45 64.83 L977.47 64.83 L977.48 64.83 L977.50 64.83 L977.52 64.83 L977.53 64.83 L977.55 64.83 L977.56 64.83 L977.58 64.83 L977.59 64.83 L977.60 64.83 L977.62 64.83 L977.63 64.83 L977.64 64.83 L977.65 64.83 L977.67 64.83 L977.68 64.83 L977.69 64.83 L977.70 64.83 L977.71 64.83 L977.72 64.83 L977.73 64.83 L977.74 64.83 L977.74 64.83 L977.75 64.83 L977.76 64.83 L977.77 64.83 L977.78 64.83 L977.78 64.83 L977.79 64.83 L977.80 64.83 L977.80 64.83 L977.81 64.83 L977.82 64.83 L977.82 64.83 L977.83 64.83 L977.83 64.83 L977.84 64.83 L977.84 64.83 L977.85 64.83 L977.85 64.83 L977.85 64.83 L977.86 64.83 L977.86 64.83 L977.86 64.83 L977.87 64.83 L977.87 64.83 L977.87 64.83 L977.88 64.83 L977.88 64.83 L977.88 64.83 L977.88 64.83 L977.88 64.83 L977.89 64.83 L977.89 64.83 L977.89 64.83 L977.89 64.83 L977.89 64.83 L977.89 64.83 L977.89 64.83 L977.90 64.83 L977.90 64.83 L977.90 64.83 L977.90 64.83 L977.90 64.83 L977.90 64.83 L977.90 64.83 L977.90 64.83 L977.90 64.83 L977.90 64.83 L977.90 64.83 L977.90 64.83 L977.90 64.83 L977.90 64.83 L977.90 64.83 L977.90 64.83 L977.90 64.83 L977.90 64.83" stroke-width="4.5"/>
<path d="M179.40 498.90 L179.40 498.90 L179.40 498.90 L179.40 498.90 L179.40 498.90 L179.40 498.90 L179.40 498.90 L179.40 498.90 L179.40 498.90 L179.40 498.90 L179.40 498.90 L179.40 498.90 L179.40 498.90 L179.40 498.90 L179.40 498.90 L179.40 498.90 L179.40 498.90 L179.40 498.90 L179.40 498.90 L179.40 498.90 L179.40 498.89 L179.40 498.89 L179.41 498.89 L179.41 498.89 L179.41 498.89 L179.41 498.88 L179.41 498.88 L179.41 498.88 L179.41 498.88 L179.41 498.87 L179.41 498.87 L179.41 498.87 L179.42 498.86 L179.42 498.86 L179.42 498.86 L179.42 498.85 L179.42 498.85 L179.42 498.84 L179.43 498.84 L179.43 498.83 L179.43 498.82 L179.43 498.82 L179.44 498.81 L179.44 498.81 L179.44 498.80 L179.44 498.79 L179.45 498.78 L179.45 498.78 L179.45 498.77 L179.46 498.76 L179.46 498.75 L179.47 498.74 L179.47 498.73 L179.47 498.72 L179.48 498.71 L179.48 498.70 L179.49 498.69 L179.49 498.67 L179.50 498.66 L179.50 498.65 L179.51 498.64 L179.51 498.62 L179.52 498.61 L179.52 498.59 L179.53 498.58 L179.54 498.56 L179.54 498.55 L179.55 498.53 L179.55 498.51 L179.56 498.50 L179.57 498.48 L179.58 498.46 L179.58 498.44 L179.59 498.42 L179.60 498.40 L179.61 498.38 L179.62 498.36 L179.63 498.34 L179.63 498.31 L179.64 498.29 L179.65 498.27 L179.66 498.24 L179.67 498.22 L179.68 498.19 L179.69 498.17 L179.70 498.14 L179.71 498.11 L179.72 498.09 L179.74 498.06 L179.75 498.03 L179.76 498.00 L179.77 497.97 L179.78 497.94 L179.80 497.91 L179.81 497.87 L179.82 497.84 L179.84 497.81 L179.85 497.77 L179.86 497.74 L179.88 497.70 L179.89 497.66 L179.91 497.62 L179.92 497.59 L179.94 497.55 L179.95 497.51 L179.97 497.47 L179.99 497.42 L180.00 497.38 L180.02 497.34 L180.04 497.30 L180.06 497.25 L180.07 497.21 L180.09 497.16 L180.11 497.11 L180.13 497.06 L180.15 497.01 L180.17 496.97 L180.19 496.91 L180.21 496.86 L180.23 496.81 L180.25 496.76 L180.27 496.70 L180.30 496.65 L180.32 496.59 L180.34 496.54 L180.36 496.48 L180.39 496.42 L180.41 496.36 L180.43 496.30 L180.46 496.24 L180.48 496.18 L180.51 496.11 L180.53 496.05 L180.56 495.98 L180.59 495.92 L180.61 495.85 L180.64 495.78 L180.67 495.71 L180.70 495.64 L180.71 495.60 M188.47 476.04 L188.57 475.79 L188.68 475.52 L188.78 475.26 L188.89 474.99 L188.99 474.72 L189.10 474.45 L189.21 474.18 L189.32 473.90 L189.43 473.63 L189.54 473.35 L189.65 473.07 L189.76 472.79 L189.78 472.74 M197.55 453.17 L197.57 453.13 L197.73 452.73 L197.89 452.32 L198.05 451.91 L198.21 451.50 L198.38 451.09 L198.54 450.67 L198.71 450.26 L198.86 449.87 M206.69 430.31 L206.73 430.23 L206.92 429.74 L207.12 429.25 L207.32 428.75 L207.52 428.26 L207.72 427.76 L207.92 427.26 L208.02 427.01 M215.96 407.44 L215.98 407.41 L216.20 406.86 L216.42 406.32 L216.65 405.77 L216.87 405.22 L217.10 404.67 L217.31 404.14 M225.39 384.58 L225.49 384.33 L225.73 383.75 L225.97 383.17 L226.21 382.59 L226.46 382.01 L226.70 381.43 L226.76 381.28 M235.00 361.71 L235.15 361.37 L235.40 360.78 L235.65 360.18 L235.91 359.58 L236.16 358.99 L236.41 358.41 M244.85 338.85 L244.95 338.60 L245.22 338.00 L245.48 337.40 L245.74 336.80 L246.00 336.20 L246.27 335.60 L246.29 335.55 M254.98 315.98 L254.99 315.95 L255.26 315.36 L255.53 314.77 L255.79 314.18 L256.06 313.59 L256.32 313.00 L256.47 312.68 M265.48 293.12 L265.64 292.79 L265.90 292.22 L266.17 291.66 L266.44 291.09 L266.70 290.53 L266.97 289.96 L267.04 289.82 M276.48 270.25 L276.55 270.12 L276.82 269.58 L277.08 269.04 L277.35 268.51 L277.62 267.97 L277.88 267.44 L278.12 266.95 M288.14 247.39 L288.26 247.16 L288.53 246.66 L288.79 246.15 L289.06 245.65 L289.33 245.15 L289.59 244.65 L289.86 244.15 L289.89 244.09 M300.70 224.52 L300.77 224.40 L301.04 223.94 L301.30 223.48 L301.57 223.02 L301.84 222.56 L302.10 222.10 L302.37 221.64 L302.61 221.22 M314.58 201.66 L314.61 201.61 L314.88 201.20 L315.14 200.78 L315.41 200.37 L315.68 199.97 L315.94 199.56 L316.21 199.15 L316.48 198.75 L316.73 198.36 M330.58 178.79 L330.58 178.79 L330.85 178.44 L331.12 178.10 L331.38 177.75 L331.65 177.41 L331.91 177.07 L332.18 176.73 L332.45 176.39 L332.71 176.05 L332.98 175.71 L333.15 175.49 M350.68 155.95 L350.81 155.83 L351.08 155.57 L351.34 155.31 L351.61 155.05 L351.88 154.80 L352.14 154.54 L352.41 154.29 L352.67 154.04 L352.94 153.78 L353.21 153.53 L353.47 153.28 L353.74 153.03 L353.98 152.81 M373.55 136.97 L373.70 136.86 L373.97 136.67 L374.23 136.49 L374.50 136.30 L374.77 136.12 L375.03 135.93 L375.30 135.75 L375.56 135.56 L375.83 135.38 L376.10 135.20 L376.36 135.02 L376.63 134.84 L376.85 134.69 M396.41 122.77 L396.59 122.67 L396.86 122.52 L397.12 122.37 L397.39 122.23 L397.66 122.08 L397.92 121.93 L398.19 121.79 L398.46 121.64 L398.72 121.49 L398.99 121.35 L399.25 121.20 L399.52 121.05 L399.71 120.95 M419.28 110.53 L419.48 110.42 L419.75 110.28 L420.01 110.14 L420.28 110.00 L420.55 109.85 L420.81 109.71 L421.08 109.57 L421.35 109.43 L421.61 109.28 L421.88 109.14 L422.14 109.00 L422.41 108.86 L422.58 108.76 M442.14 98.16 L442.37 98.04 L442.64 97.90 L442.90 97.75 L443.17 97.61 L443.44 97.47 L443.70 97.32 L443.97 97.18 L444.24 97.04 L444.50 96.89 L444.77 96.75 L445.03 96.61 L445.30 96.47 L445.44 96.39 M465.01 86.34 L465.26 86.22 L465.53 86.09 L465.80 85.96 L466.06 85.84 L466.33 85.71 L466.59 85.58 L466.86 85.45 L467.13 85.33 L467.39 85.20 L467.66 85.07 L467.92 84.95 L468.19 84.82 L468.31 84.76 M487.87 76.43 L487.89 76.42 L488.15 76.32 L488.42 76.23 L488.69 76.13 L488.95 76.03 L489.22 75.93 L489.48 75.84 L489.75 75.74 L490.02 75.64 L490.28 75.55 L490.55 75.45 L490.81 75.36 L491.08 75.27 L491.17 75.23 M510.74 69.71 L510.78 69.70 L511.04 69.64 L511.31 69.58 L511.58 69.53 L511.84 69.47 L512.11 69.42 L512.37 69.36 L512.64 69.31 L512.91 69.25 L513.17 69.20 L513.44 69.15 L513.71 69.09 L513.97 69.04 L514.04 69.03 M533.60 66.25 L533.67 66.25 L533.93 66.22 L534.20 66.20 L534.47 66.17 L534.73 66.15 L535.00 66.13 L535.26 66.10 L535.53 66.08 L535.80 66.06 L536.06 66.03 L536.33 66.01 L536.60 65.99 L536.86 65.97 L536.90 65.96 M556.47 65.00 L556.56 65.00 L556.82 64.99 L557.09 64.99 L557.36 64.98 L557.62 64.98 L557.89 64.97 L558.16 64.97 L558.42 64.96 L558.69 64.96 L558.95 64.95 L559.22 64.95 L559.49 64.94 L559.75 64.94 L559.77 64.94 M579.33 64.83 L579.45 64.83 L579.71 64.83 L579.98 64.83 L580.25 64.83 L580.51 64.83 L580.78 64.83 L581.05 64.83 L581.31 64.83 L581.58 64.83 L581.84 64.83 L582.11 64.83 L582.38 64.83 L582.63 64.83 M602.20 64.83 L602.41 64.83 L602.69 64.83 L602.96 64.83 L603.24 64.83 L603.52 64.83 L603.80 64.83 L604.08 64.83 L604.36 64.83 L604.64 64.83 L604.92 64.83 L605.20 64.83 L605.48 64.83 L605.50 64.83 M625.06 64.83 L625.09 64.83 L625.40 64.83 L625.70 64.83 L626.01 64.83 L626.32 64.83 L626.63 64.83 L626.94 64.83 L627.25 64.83 L627.56 64.83 L627.87 64.83 L628.18 64.83 L628.36 64.83 M647.93 64.83 L647.94 64.83 L648.29 64.83 L648.64 64.83 L648.99 64.83 L649.34 64.83 L649.70 64.83 L650.05 64.83 L650.40 64.83 L650.75 64.83 L651.11 64.83 L651.23 64.83 M670.79 64.83 L671.01 64.83 L671.41 64.83 L671.81 64.83 L672.21 64.83 L672.61 64.83 L673.01 64.83 L673.41 64.83 L673.82 64.83 L674.09 64.83 M693.66 64.83 L693.70 64.83 L694.14 64.83 L694.58 64.83 L695.03 64.83 L695.47 64.83 L695.92 64.83 L696.36 64.83 L696.81 64.83 L696.96 64.83 M716.52 64.83 L716.62 64.83 L717.10 64.83 L717.57 64.83 L718.05 64.83 L718.53 64.83 L719.00 64.83 L719.48 64.83 L719.82 64.83 M739.39 64.83 L739.51 64.83 L740.01 64.83 L740.51 64.83 L741.01 64.83 L741.51 64.83 L742.01 64.83 L742.51 64.83 L742.69 64.83 M762.25 64.83 L762.36 64.83 L762.88 64.83 L763.39 64.83 L763.91 64.83 L764.43 64.83 L764.94 64.83 L765.46 64.83 L765.55 64.83 M785.12 64.83 L785.31 64.83 L785.84 64.83 L786.37 64.83 L786.89 64.83 L787.42 64.83 L787.95 64.83 L788.42 64.83 M807.98 64.83 L808.09 64.83 L808.62 64.83 L809.15 64.83 L809.68 64.83 L810.22 64.83 L810.75 64.83 L811.28 64.83 L811.28 64.83 M830.85 64.83 L830.96 64.83 L831.49 64.83 L832.02 64.83 L832.55 64.83 L833.08 64.83 L833.61 64.83 L834.14 64.83 L834.15 64.83 M853.71 64.83 L854.09 64.83 L854.61 64.83 L855.13 64.83 L855.64 64.83 L856.16 64.83 L856.68 64.83 L857.01 64.83 M876.58 64.83 L876.93 64.83 L877.43 64.83 L877.92 64.83 L878.41 64.83 L878.90 64.83 L879.40 64.83 L879.88 64.83 M899.44 64.83 L899.79 64.83 L900.25 64.83 L900.70 64.83 L901.15 64.83 L901.61 64.83 L902.06 64.83 L902.51 64.83 L902.74 64.83 M922.31 64.83 L922.46 64.83 L922.85 64.83 L923.25 64.83 L923.64 64.83 L924.04 64.83 L924.43 64.83 L924.82 64.83 L925.21 64.83 L925.59 64.83 L925.61 64.83 M945.17 64.83 L945.31 64.83 L945.61 64.83 L945.91 64.83 L946.21 64.83 L946.51 64.83 L946.80 64.83 L947.09 64.83 L947.39 64.83 L947.68 64.83 L947.96 64.83 L948.25 64.83 L948.47 64.83 M968.04 64.83 L968.10 64.83 L968.24 64.83 L968.37 64.83 L968.51 64.83 L968.64 64.83 L968.77 64.83 L968.90 64.83 L969.03 64.83 L969.16 64.83 L969.28 64.83 L969.41 64.83 L969.53 64.83 L969.65 64.83 L969.77 64.83 L969.89 64.83 L970.01 64.83 L970.13 64.83 L970.25 64.83 L970.36 64.83 L970.48 64.83 L970.59 64.83 L970.70 64.83 L970.81 64.83 L970.92 64.83 L971.03 64.83 L971.14 64.83 L971.24 64.83 L971.34 64.83" stroke-width="4.5"/>
</g>
<!-- ticks -->
<g stroke="#000" stroke-width="4.8">
<line x1="179.40" y1="8.40" x2="179.40" y2="19.50"/>
<line x1="179.40" y1="636.75" x2="179.40" y2="625.60"/>
<line x1="259.25" y1="8.40" x2="259.25" y2="19.50"/>
<line x1="259.25" y1="636.75" x2="259.25" y2="625.60"/>
<line x1="339.10" y1="8.40" x2="339.10" y2="19.50"/>
<line x1="339.10" y1="636.75" x2="339.10" y2="625.60"/>
<line x1="418.95" y1="8.40" x2="418.95" y2="19.50"/>
<line x1="418.95" y1="636.75" x2="418.95" y2="625.60"/>
<line x1="498.80" y1="8.40" x2="498.80" y2="19.50"/>
<line x1="498.80" y1="636.75" x2="498.80" y2="625.60"/>
<line x1="578.65" y1="8.40" x2="578.65" y2="19.50"/>
<line x1="578.65" y1="636.75" x2="578.65" y2="625.60"/>
<line x1="658.50" y1="8.40" x2="658.50" y2="19.50"/>
<line x1="658.50" y1="636.75" x2="658.50" y2="625.60"/>
<line x1="738.35" y1="8.40" x2="738.35" y2="19.50"/>
<line x1="738.35" y1="636.75" x2="738.35" y2="625.60"/>
<line x1="818.20" y1="8.40" x2="818.20" y2="19.50"/>
<line x1="818.20" y1="636.75" x2="818.20" y2="625.60"/>
<line x1="898.05" y1="8.40" x2="898.05" y2="19.50"/>
<line x1="898.05" y1="636.75" x2="898.05" y2="625.60"/>
<line x1="977.90" y1="8.40" x2="977.90" y2="19.50"/>
<line x1="977.90" y1="636.75" x2="977.90" y2="625.60"/>
<line x1="139.70" y1="625.60" x2="150.80" y2="625.60"/>
<line x1="1018.00" y1="625.60" x2="1006.90" y2="625.60"/>
<line x1="139.70" y1="569.54" x2="145.20" y2="569.54"/>
<line x1="1018.00" y1="569.54" x2="1012.50" y2="569.54"/>
<line x1="139.70" y1="513.48" x2="150.80" y2="513.48"/>
<line x1="1018.00" y1="513.48" x2="1006.90" y2="513.48"/>
<line x1="139.70" y1="457.42" x2="145.20" y2="457.42"/>
<line x1="1018.00" y1="457.42" x2="1012.50" y2="457.42"/>
<line x1="139.70" y1="401.36" x2="150.80" y2="401.36"/>
<line x1="1018.00" y1="401.36" x2="1006.90" y2="401.36"/>
<line x1="139.70" y1="345.30" x2="145.20" y2="345.30"/>
<line x1="1018.00" y1="345.30" x2="1012.50" y2="345.30"/>
<line x1="139.70" y1="289.24" x2="150.80" y2="289.24"/>
<line x1="1018.00" y1="289.24" x2="1006.90" y2="289.24"/>
<line x1="139.70" y1="233.18" x2="145.20" y2="233.18"/>
<line x1="1018.00" y1="233.18" x2="1012.50" y2="233.18"/>
<line x1="139.70" y1="177.12" x2="150.80" y2="177.12"/>
<line x1="1018.00" y1="177.12" x2="1006.90" y2="177.12"/>
<line x1="139.70" y1="121.06" x2="145.20" y2="121.06"/>
<line x1="1018.00" y1="121.06" x2="1012.50" y2="121.06"/>
<line x1="139.70" y1="65.00" x2="150.80" y2="65.00"/>
<line x1="1018.00" y1="65.00" x2="1006.90" y2="65.00"/>
</g>
<!-- markers -->
<g fill="#fff" stroke="#000" stroke-width="1.8" stroke-linejoin="round">
<rect x="172.45" y="576.67" width="13.9" height="14.9"/>
<rect x="332.15" y="555.92" width="13.9" height="14.9"/>
<rect x="491.85" y="506.03" width="13.9" height="14.9"/>
<rect x="651.55" y="543.25" width="13.9" height="14.9"/>
<rect x="811.25" y="554.13" width="13.9" height="14.9"/>
<rect x="970.95" y="554.13" width="13.9" height="14.9"/>
</g>
<g fill="#fff" stroke="#000" stroke-width="2">
<ellipse cx="179.30" cy="625.60" rx="8.55" ry="8.35"/>
<ellipse cx="259.15" cy="460.22" rx="8.55" ry="8.35"/>
<ellipse cx="339.00" cy="322.04" rx="8.55" ry="8.35"/>
<ellipse cx="418.85" cy="247.76" rx="8.55" ry="8.35"/>
<ellipse cx="498.70" cy="130.87" rx="8.55" ry="8.35"/>
<ellipse cx="578.55" cy="89.95" rx="8.55" ry="8.35"/>
<ellipse cx="658.40" cy="64.33" rx="8.55" ry="8.35"/>
<ellipse cx="818.10" cy="64.33" rx="8.55" ry="8.35"/>
<ellipse cx="977.80" cy="64.33" rx="8.55" ry="8.35"/>
</g>
<g fill="#fff" stroke="#000" stroke-width="1.9" stroke-linejoin="round">
<polygon points="179.40,487.45 189.40,505.05 169.40,505.05"/>
<polygon points="259.25,285.64 269.25,303.24 249.25,303.24"/>
<polygon points="339.10,137.64 349.10,155.24 329.10,155.24"/>
<polygon points="418.95,100.64 428.95,118.24 408.95,118.24"/>
<polygon points="498.80,52.99 508.80,70.59 488.80,70.59"/>
<polygon points="578.65,52.99 588.65,70.59 568.65,70.59"/>
<polygon points="658.50,52.99 668.50,70.59 648.50,70.59"/>
<polygon points="818.20,52.99 828.20,70.59 808.20,70.59"/>
<polygon points="977.90,52.99 987.90,70.59 967.90,70.59"/>
</g>
<!-- frame -->
<g stroke="#000" stroke-width="4.4" stroke-linecap="butt">
<line x1="139.39999999999998" y1="8.4" x2="1018.3" y2="8.4"/>
<line x1="139.39999999999998" y1="636.75" x2="1018.3" y2="636.75"/>
<line x1="139.7" y1="8.200000000000001" x2="139.7" y2="636.95"/>
<line x1="1018.0" y1="8.200000000000001" x2="1018.0" y2="636.95"/>
</g>
<!-- tick labels -->
<g font-size="37" text-anchor="middle">
<text transform="translate(179.60 682) scale(1 1)">2</text>
<text transform="translate(259.45 682) scale(1 1)">3</text>
<text transform="translate(339.30 682) scale(1 1)">4</text>
<text transform="translate(419.15 682) scale(1 1)">5</text>
<text transform="translate(499.00 682) scale(1 1)">6</text>
<text transform="translate(578.85 682) scale(1 1)">7</text>
<text transform="translate(658.70 682) scale(1 1)">8</text>
<text transform="translate(738.55 682) scale(1 1)">9</text>
<text transform="translate(818.40 682) scale(1 1)">10</text>
<text transform="translate(898.25 682) scale(1 1)">11</text>
<text transform="translate(978.10 682) scale(1 1)">12</text>
</g>
<g font-size="37" text-anchor="end">
<text transform="translate(123.5 633.00) scale(1 1)">0</text>
<text transform="translate(123.5 520.88) scale(1 1)">20</text>
<text transform="translate(123.5 408.76) scale(1 1)">40</text>
<text transform="translate(123.5 296.64) scale(1 1)">60</text>
<text transform="translate(123.5 184.52) scale(1 1)">80</text>
<text transform="translate(123.5 72.40) scale(1 1)">100</text>
</g>
<!-- axis titles -->
<text transform="translate(578.5 737.4) scale(0.965 1)" font-size="38.4" font-weight="bold" text-anchor="middle">pH</text>
<text transform="translate(33.7 329.05) rotate(-90) scale(0.922 1)" font-size="42.7" font-weight="bold" text-anchor="middle">Removal %</text>
<!-- legend -->
<rect x="729" y="122.8" width="267.6" height="122.9" fill="#000"/>
<rect x="722.1" y="115.7" width="265.7" height="121.3" fill="#fff" stroke="#000" stroke-width="2"/>
<g stroke="#000" fill="none">
<line x1="743.5" y1="144.4" x2="803.4" y2="144.4" stroke-width="4.8"/>
<line x1="743.5" y1="176.8" x2="759.9" y2="176.8" stroke-width="4.6"/>
<line x1="781.9" y1="176.8" x2="798.3" y2="176.8" stroke-width="4.6"/>
<line x1="743.5" y1="209" x2="746.9" y2="209" stroke-width="4.6"/>
<line x1="789.3" y1="209" x2="792.7" y2="209" stroke-width="4.6"/>
</g>
<g fill="#fff" stroke="#000" stroke-width="1.9">
<rect x="767.4" y="138.3" width="12.8" height="12.3"/>
<ellipse cx="773.3" cy="176.9" rx="7.3" ry="7.2"/>
<polygon points="773.4,199.4 782.1,214.1 764.7,214.1"/>
</g>
<g font-size="26.8">
<text x="810.6" y="153.5">Cd only</text>
<text x="810.4" y="185.8">(Cd+As) - Cd</text>
<text x="810.4" y="218.1">(Cd+As) - As</text>
</g>
</svg>
</body></html>
